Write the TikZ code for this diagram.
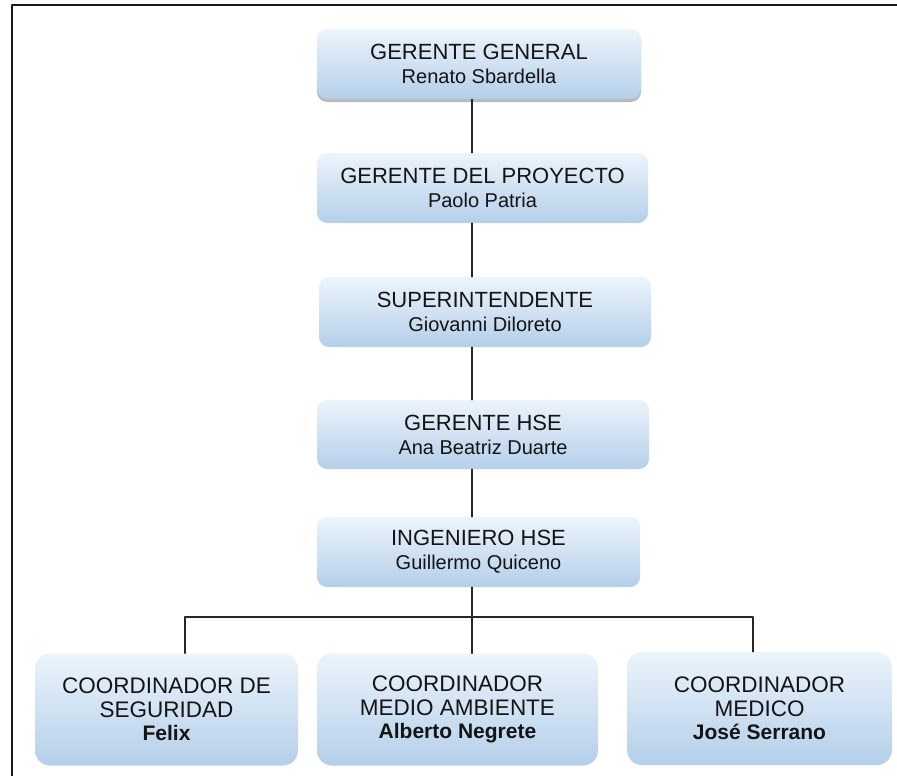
\documentclass[tikz,border=0pt]{standalone}
\usepackage{fontspec}
\setmainfont{Liberation Sans}
\usetikzlibrary{shadows}
\definecolor{boxtop}{RGB}{236,244,251}
\definecolor{boxbot}{RGB}{180,207,234}
\definecolor{inktext}{RGB}{20,20,20}
\newcommand{\titlefont}{\fontsize{22}{24}\selectfont}
\newcommand{\namefont}{\fontsize{20}{24}\selectfont}
\newcommand{\coordfont}{\fontsize{22.5}{23.5}\selectfont}
\newcommand{\coordname}{\fontsize{21}{23.5}\selectfont\bfseries}

\begin{document}
\begin{tikzpicture}[x=1pt, y=-1pt, line cap=round, line join=round,
	post/.style={rounded corners=10pt, top color=boxtop, bottom color=boxbot,
		inner sep=0pt, align=center, text=inktext, minimum height=70pt,
		font=\titlefont},
	lowpost/.style={post, rounded corners=15pt, minimum height=112pt,
		font=\coordfont},
	link/.style={line width=1.3pt, black!85}]
\useasboundingbox (0,0) rectangle (897,776);
%========================
% frame
%========================
\draw[line width=2pt, black!90] (11.5,776) |- (897,5);

%========================
% main chain
%========================
\node[post, minimum width=324pt, drop shadow={opacity=0.55, shadow xshift=0pt, shadow yshift=-3pt}]
	(gerGeneral) at (479,64) {GERENTE GENERAL\\\namefont Renato Sbardella};
\node[post, minimum width=331pt] (gerProyecto) at (482.5,188)
	{GERENTE DEL PROYECTO\\\namefont Paolo Patria};
\node[post, minimum width=332pt] (superint) at (485,312)
	{SUPERINTENDENTE\\\namefont Giovanni Diloreto};
\node[post, minimum width=332pt, minimum height=69pt] (gerHSE) at (483,434.5)
	{GERENTE HSE\\\namefont Ana Beatriz Duarte};
\node[post, minimum width=323pt] (ingHSE) at (478.5,552)
	{INGENIERO HSE\\\namefont Guillermo Quiceno};

%========================
% coordinators
%========================
\node[lowpost, minimum width=263pt] (coordSeg) at (166.5,709.5)
	{COORDINADOR DE\\SEGURIDAD\\\coordname Felix};
\node[lowpost, minimum width=281pt] (coordAmb) at (457.5,709.5)
	{COORDINADOR\\MEDIO AMBIENTE\\\coordname Alberto Negrete};
\node[lowpost, minimum width=265pt, minimum height=113pt] (coordMed) at (759.5,708.5)
	{COORDINADOR\\MEDICO\\\coordname José Serrano};

%========================
% connectors
%========================
\coordinate (spine) at (472,0);
\coordinate (busL) at (185,617);
\coordinate (busR) at (753,617);
\draw[link] (gerGeneral.south -| spine) -- (gerProyecto.north -| spine);
\draw[link] (gerProyecto.south -| spine) -- (superint.north -| spine);
\draw[link] (superint.south -| spine) -- (gerHSE.north -| spine);
\draw[link] (gerHSE.south -| spine) -- (ingHSE.north -| spine);
\draw[link] (ingHSE.south -| spine) -- (coordAmb.north -| spine);
\draw[link] (coordSeg.north -| busL) -- (busL) -- (busR) -- (coordMed.north -| busR);
\end{tikzpicture}
\end{document}
